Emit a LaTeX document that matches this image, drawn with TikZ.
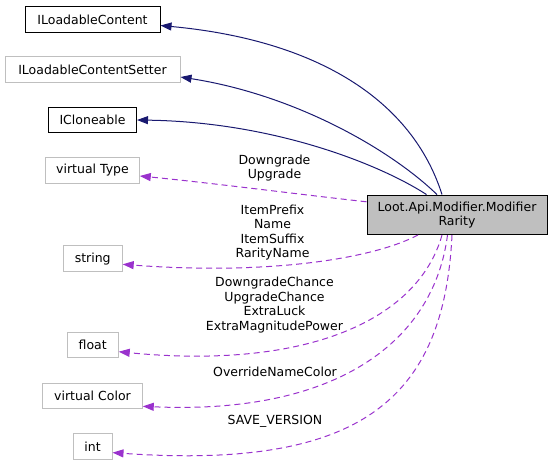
\documentclass[tikz,border=0pt]{standalone}
\usepackage{fontspec}
\setmainfont{DejaVu Sans}
\usepackage{tikz}
\usetikzlibrary{arrows.meta}
\definecolor{inhcol}{HTML}{191970}
\definecolor{assoccol}{HTML}{9A32CD}
\definecolor{boxgray}{HTML}{BFBFBF}

\begin{document}
\begin{tikzpicture}[x=1pt,y=-1pt,
          font=\fontsize{12.5}{14.5}\selectfont,
          klass/.style={draw=boxgray,line width=1pt,minimum height=25.5pt,inner sep=0pt},
          iface/.style={draw=black,line width=1pt,minimum height=25.5pt,inner sep=0pt},
          focus/.style={draw=black,fill=boxgray,line width=1pt,align=center,
            minimum width=180pt,minimum height=39.5pt,inner sep=0pt},
          inh/.style={inhcol,line width=1pt,-{Triangle[length=11pt,width=8pt]}},
          assoc/.style={assoccol,line width=1pt,dash pattern=on 6pt off 4pt,
            -{Triangle[length=11pt,width=8pt]}},
          lbl/.style={align=center,inner sep=0pt}
        ]
        \useasboundingbox (0,0) rectangle (553,467);
        % classes on the left
        \node[iface,minimum width=135pt] (ilc) at (92.5,19.5) {ILoadableContent};
        \node[klass,minimum width=175pt] (ilcs) at (92.5,69.5) {ILoadableContentSetter};
        \node[iface,minimum width=88pt] (iclone) at (92.5,120) {ICloneable};
        \node[klass,minimum width=93.5pt] (vtype) at (92.5,170.3) {virtual Type};
        \node[klass,minimum width=59pt] (str) at (92.7,258.7) {string};
        \node[klass,minimum width=51pt] (flt) at (92.7,345) {float};
        \node[klass,minimum width=99.5pt] (vcolor) at (92.5,395.8) {virtual Color};
        \node[klass,minimum width=39pt] (intn) at (92.5,446.3) {int};
        % the class itself
        \node[focus] (rarity) at (457,214.8) {Loot.Api.Modifier.Modifier\\Rarity};
        % inheritance
        \draw[inh] ([xshift=-15pt]rarity.north) .. controls (412,100) and (317,40) .. ([yshift=-6pt]ilc.east);
        \draw[inh] ([xshift=-20pt]rarity.north) .. controls (391,150) and (296,95) .. ([yshift=-7.5pt]ilcs.east);
        \draw[inh] ([xshift=-30.5pt]rarity.north) .. controls (381,165) and (275,122) .. (iclone.east);
        % members
        \draw[assoc] ([yshift=13pt]rarity.west) .. controls (296,194) and (212,183) .. ([yshift=-5.7pt]vtype.east);
        \draw[assoc] ([xshift=-39pt]rarity.south) .. controls (370,260) and (264,275) .. ([yshift=-5.6pt]str.east);
        \draw[assoc] ([xshift=-15pt]rarity.south) .. controls (418,320) and (307,370) .. ([yshift=-6.7pt]flt.east);
        \draw[assoc] ([xshift=-9.5pt]rarity.south) .. controls (434,340) and (339,415) .. ([yshift=-10.5pt]vcolor.east);
        \draw[assoc] ([xshift=-5pt]rarity.south) .. controls (444,400) and (360,470) .. ([yshift=-6.3pt]intn.east);
        % edge labels
        \node[lbl] (lvtype) at (274.5,168) {Downgrade\\Upgrade};
        \node[lbl] (lstr) at (272.5,232.5) {ItemPrefix\\Name\\ItemSuffix\\RarityName};
        \node[lbl] (lflt) at (274.5,305) {DowngradeChance\\UpgradeChance\\ExtraLuck\\ExtraMagnitudePower};
        \node[lbl] (lvcolor) at (275,372) {OverrideNameColor};
        \node[lbl] (lintn) at (275,421) {SAVE\_VERSION};
      \end{tikzpicture}
\end{document}
